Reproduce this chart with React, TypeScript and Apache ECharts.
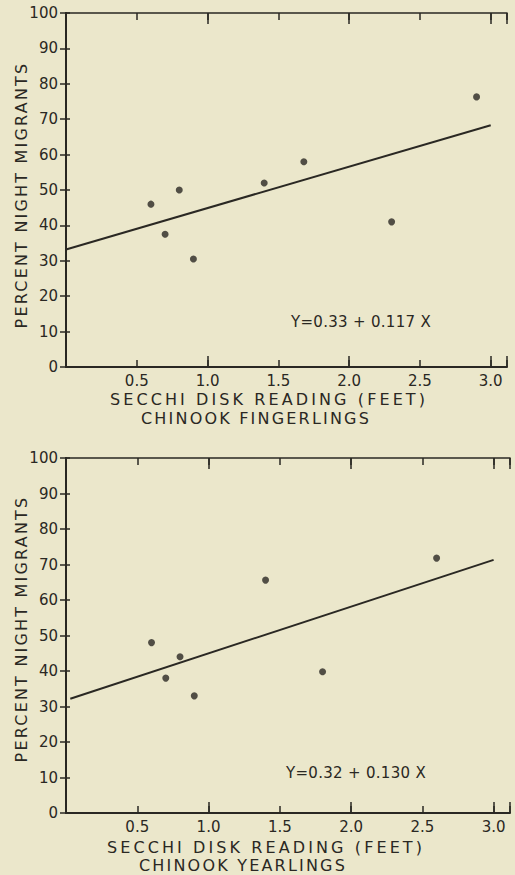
import React, { useEffect, useRef } from "react";
import * as echarts from "echarts";

// Chinook fingerlings (top panel)
const fingerlingX = [0.6, 0.7, 0.8, 0.9, 1.4, 1.68, 2.3, 2.9];
const fingerlingY = [46, 37.5, 50, 30.5, 52, 58, 41, 76.3];
const fingerlingFitX = [0, 3.0];
const fingerlingFitY = [33.2, 68.3];
const fingerlingEq = "Y=0.33 + 0.117 X";

// Chinook yearlings (bottom panel)
const yearlingX = [0.6, 0.7, 0.8, 0.9, 1.4, 1.8, 2.6];
const yearlingY = [48, 38, 44, 33, 65.6, 39.8, 71.8];
const yearlingFitX = [0.03, 3.0];
const yearlingFitY = [32.2, 71.3];
const yearlingEq = "Y=0.32 + 0.130 X";

const xName = "SECCHI DISK READING (FEET)";
const yName = "PERCENT NIGHT MIGRANTS";
const topSubtitle = "CHINOOK FINGERLINGS";
const bottomSubtitle = "CHINOOK YEARLINGS";

const X_MIN = 0;
const X_MAX = 3.115;
const Y_MIN = 0;
const Y_MAX = 100;

const INK = "#2a2823";
const BG = "#ebe7cb";
const FONT = "DejaVu Sans";

function zip(xs: number[], ys: number[]) {
  return xs.map((x, i) => [x, ys[i]]);
}

function xLabel(v: number) {
  if (v <= 0) return "";
  const d = v * 2;
  if (Math.abs(d - Math.round(d)) > 1e-6) return "";
  return v.toFixed(1);
}

function makeXAxes(gridIndex: number) {
  const base = {
    type: "value",
    gridIndex,
    min: X_MIN,
    max: X_MAX,
    splitLine: { show: false },
  };
  return [
    {
      ...base,
      position: "bottom",
      interval: 0.5,
      axisLine: { show: true, lineStyle: { color: INK, width: 2 } },
      axisTick: { show: true, inside: true, length: 7, lineStyle: { color: INK, width: 1.5 } },
      axisLabel: {
        show: true,
        formatter: xLabel,
        color: INK,
        fontFamily: FONT,
        fontSize: 15,
        margin: 6,
        showMaxLabel: true,
      },
    },
    {
      ...base,
      position: "bottom",
      interval: 1,
      axisLine: { show: false },
      axisTick: { show: true, inside: true, length: 11, lineStyle: { color: INK, width: 1.5 } },
      axisLabel: { show: false },
    },
    {
      ...base,
      position: "top",
      interval: 0.5,
      axisLine: { show: true, lineStyle: { color: INK, width: 1.6 } },
      axisTick: { show: true, inside: true, length: 7, lineStyle: { color: INK, width: 1.5 } },
      axisLabel: { show: false },
    },
    {
      ...base,
      position: "top",
      interval: 1,
      axisLine: { show: false },
      axisTick: { show: true, inside: true, length: 11, lineStyle: { color: INK, width: 1.5 } },
      axisLabel: { show: false },
    },
  ];
}

function makeYAxes(gridIndex: number) {
  const base = {
    type: "value",
    gridIndex,
    min: Y_MIN,
    max: Y_MAX,
    interval: 10,
    splitLine: { show: false },
  };
  return [
    {
      ...base,
      position: "left",
      axisLine: { show: true, lineStyle: { color: INK, width: 2 } },
      axisTick: { show: true, inside: true, length: 4, lineStyle: { color: INK, width: 1.5 } },
      axisLabel: {
        show: true,
        color: INK,
        fontFamily: FONT,
        fontSize: 15,
        margin: 8,
      },
    },
    {
      ...base,
      position: "right",
      axisLine: { show: true, lineStyle: { color: INK, width: 1.8 } },
      axisTick: { show: true, inside: true, length: 6, lineStyle: { color: INK, width: 1.5 } },
      axisLabel: { show: false },
    },
  ];
}

function scatterSeries(xi: number, yi: number, xs: number[], ys: number[]) {
  return {
    type: "scatter",
    xAxisIndex: xi,
    yAxisIndex: yi,
    data: zip(xs, ys),
    symbol: "circle",
    symbolSize: 7,
    itemStyle: { color: INK },
    silent: true,
  };
}

function fitSeries(xi: number, yi: number, xs: number[], ys: number[]) {
  return {
    type: "line",
    xAxisIndex: xi,
    yAxisIndex: yi,
    data: zip(xs, ys),
    symbol: "none",
    lineStyle: { color: INK, width: 2 },
    silent: true,
  };
}

function txt(text: string, x: number, y: number, size: number, rotation = 0) {
  return {
    type: "text",
    x,
    y,
    rotation,
    silent: true,
    style: {
      text,
      fill: INK,
      font: `${size}px "${FONT}"`,
      align: "center",
      verticalAlign: "middle",
    },
  };
}

const letterSpacing: Record<string, string> = {
  [xName]: "3.1px",
  [yName]: "2.2px",
  [topSubtitle]: "2.2px",
  [bottomSubtitle]: "2.2px",
  [fingerlingEq]: "0.3px",
  [yearlingEq]: "0.3px",
};

export default function App() {
  const ref = useRef<HTMLDivElement>(null);

  useEffect(() => {
    if (!ref.current) return;
    const chart = echarts.init(ref.current, undefined, { renderer: "svg" });
    const option = {
      animation: false,
      backgroundColor: BG,
      grid: [
        { left: 66, top: 13, width: 441, height: 354 },
        { left: 66, top: 458, width: 444, height: 355 },
      ],
      xAxis: [...makeXAxes(0), ...makeXAxes(1)],
      yAxis: [...makeYAxes(0), ...makeYAxes(1)],
      series: [
        fitSeries(0, 0, fingerlingFitX, fingerlingFitY),
        scatterSeries(0, 0, fingerlingX, fingerlingY),
        fitSeries(4, 2, yearlingFitX, yearlingFitY),
        scatterSeries(4, 2, yearlingX, yearlingY),
      ],
      graphic: [
        txt(yName, 21, 195, 16, Math.PI / 2),
        txt(xName, 269, 399, 16),
        txt(topSubtitle, 256, 418, 16),
        txt(fingerlingEq, 361, 322, 15),
        txt(yName, 21, 629, 16, Math.PI / 2),
        txt(xName, 266, 847, 16),
        txt(bottomSubtitle, 243, 865, 16),
        txt(yearlingEq, 356, 773, 15),
      ],
    };
    chart.setOption(option as any);
    ref.current.querySelectorAll("text").forEach((t) => {
      const s = letterSpacing[(t.textContent || "").trim()];
      if (s) t.setAttribute("letter-spacing", s);
    });
    return () => chart.dispose();
  }, []);

  return (
    <div
      ref={ref}
      style={{
        position: "fixed",
        left: 0,
        top: 0,
        width: 515,
        height: 875,
        background: BG,
      }}
    />
  );
}
